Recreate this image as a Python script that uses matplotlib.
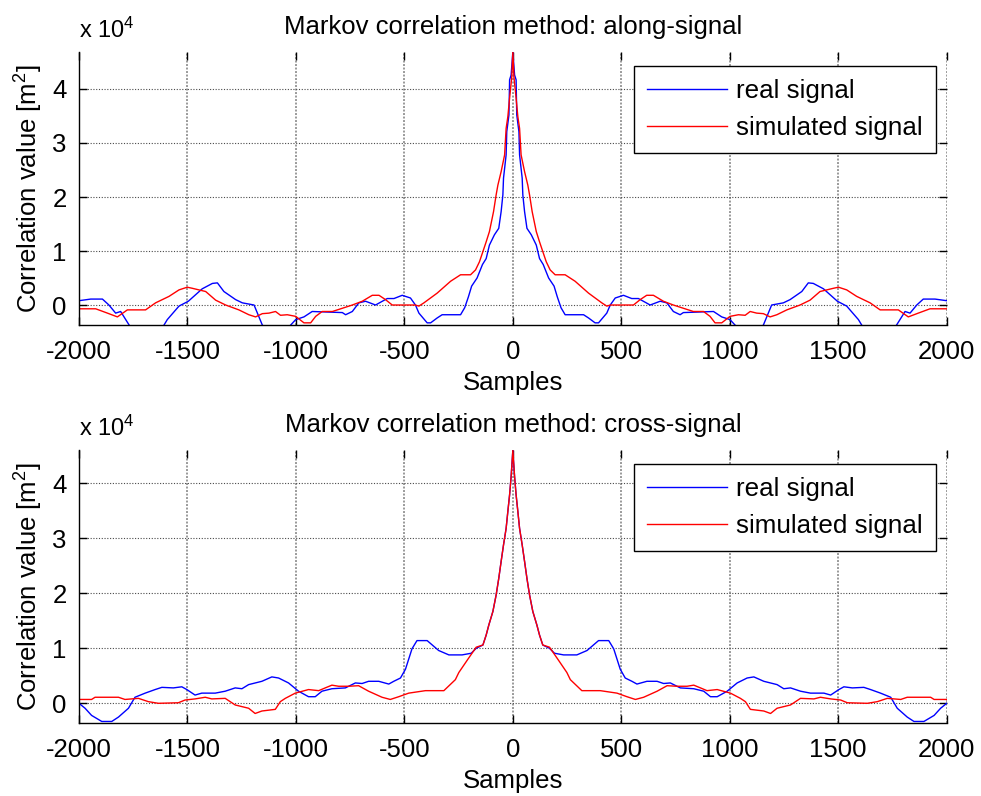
import numpy as np
import matplotlib
matplotlib.use("Agg")
import matplotlib.pyplot as plt

plt.rcParams['font.family'] = ['Liberation Sans', 'DejaVu Sans']
plt.rcParams['mathtext.fontset'] = 'custom'
plt.rcParams['mathtext.rm'] = 'Liberation Sans'
plt.rcParams['mathtext.it'] = 'Liberation Sans:italic'
plt.rcParams['axes.unicode_minus'] = False

SCALE = 1e4

# ---------------- data (lag >= 0 half; correlations are symmetric) ----------------
# values in units of 1e4 m^2
along_real_lag = [0, 8, 15, 18, 28, 31, 43, 46, 54, 65, 85, 108, 123, 140, 165, 190, 205, 222,
                  241, 326, 349, 379, 395, 433, 449, 472, 510, 548, 579, 633, 679, 710, 740, 771,
                  786, 925, 963, 1001, 1024, 1090, 1155, 1193, 1247, 1278, 1332, 1362, 1385, 1432,
                  1496, 1539, 1593, 1608, 1690, 1769, 1808, 1831, 1862, 1892, 1946, 2000]
along_real_val = [4.69, 4.26, 4.17, 3.52, 3.21, 2.78, 2.35, 2.04, 1.73, 1.42, 1.30, 1.11, 0.86, 0.75,
                  0.50, 0.35, 0.15, -0.05, -0.18, -0.18, -0.24, -0.33, -0.33, -0.15, 0.0, 0.13, 0.18,
                  0.12, 0.12, 0.0, 0.07, 0.04, -0.12, -0.18, -0.14, -0.12, -0.22, -0.27, -0.37, -0.62,
                  -0.37, 0.0, 0.04, 0.10, 0.25, 0.41, 0.40, 0.30, 0.07, -0.02, -0.27, -0.37, -0.80,
                  -0.37, -0.12, -0.15, 0.0, 0.11, 0.11, 0.08]

along_sim_lag = [0, 5, 15, 23, 31, 38, 54, 69, 77, 89, 108, 123, 138, 154, 172, 195, 241, 287, 349,
                 410, 433, 450, 556, 587, 617, 648, 694, 740, 786, 832, 879, 909, 932, 963, 1001,
                 1040, 1071, 1094, 1124, 1155, 1186, 1217, 1263, 1324, 1370, 1416, 1478, 1501, 1539,
                 1585, 1647, 1693, 1777, 1823, 1869, 1923, 2000]
along_sim_val = [4.69, 4.22, 3.83, 3.49, 3.27, 2.78, 2.47, 2.22, 2.04, 1.73, 1.36, 1.17, 0.99, 0.80,
                 0.65, 0.56, 0.56, 0.44, 0.22, 0.04, -0.02, 0.0, 0.0, 0.10, 0.18, 0.18, 0.07, 0.0,
                 -0.06, -0.12, -0.12, -0.21, -0.33, -0.33, -0.21, -0.18, -0.19, -0.12, -0.15, -0.16,
                 -0.22, -0.18, -0.09, 0.0, 0.09, 0.25, 0.31, 0.33, 0.28, 0.16, 0.04, -0.09, -0.09,
                 -0.22, -0.15, -0.07, -0.07]

cross_real_lag = [0, 8, 15, 23, 31, 43, 54, 65, 77, 92, 111, 123, 138, 169, 192, 234, 295, 342, 395,
                  442, 465, 495, 518, 549, 572, 618, 665, 695, 726, 772, 834, 880, 911, 942, 988,
                  1034, 1080, 1111, 1157, 1218, 1249, 1280, 1326, 1372, 1434, 1465, 1503, 1526,
                  1565, 1618, 1649, 1695, 1742, 1772, 1818, 1849, 1895, 1942, 1972, 2000]
cross_real_val = [4.6, 4.12, 3.79, 3.49, 3.18, 2.88, 2.58, 2.27, 1.97, 1.67, 1.42, 1.24, 1.06, 1.0,
                  0.91, 0.88, 0.88, 0.96, 1.14, 1.14, 0.99, 0.62, 0.46, 0.40, 0.35, 0.40, 0.40,
                  0.36, 0.37, 0.28, 0.265, 0.22, 0.12, 0.12, 0.22, 0.37, 0.46, 0.48, 0.40, 0.34,
                  0.265, 0.28, 0.22, 0.185, 0.185, 0.15, 0.25, 0.30, 0.28, 0.29, 0.25, 0.185, 0.11,
                  -0.09, -0.25, -0.33, -0.33, -0.22, -0.09, 0.0]

cross_sim_lag = [0, 8, 15, 23, 31, 43, 54, 65, 77, 92, 111, 123, 138, 169, 190, 211, 249, 265, 318,
                 403, 480, 526, 565, 603, 665, 711, 757, 803, 834, 865, 895, 942, 1003, 1049, 1072,
                 1095, 1157, 1188, 1218, 1280, 1326, 1388, 1418, 1465, 1511, 1542, 1634, 1680,
                 1726, 1788, 1818, 1926, 1942, 2000]
cross_sim_val = [4.6, 4.12, 3.79, 3.49, 3.18, 2.88, 2.58, 2.27, 1.97, 1.67, 1.42, 1.24, 1.06, 1.02,
                 0.90, 0.78, 0.56, 0.43, 0.23, 0.23, 0.185, 0.12, 0.07, 0.11, 0.22, 0.32, 0.31,
                 0.31, 0.33, 0.28, 0.23, 0.25, 0.185, 0.09, 0.03, -0.11, -0.14, -0.185, -0.09,
                 -0.03, 0.09, 0.08, 0.11, 0.08, 0.06, 0.01, 0.0, 0.03, 0.09, 0.07, 0.11, 0.11,
                 0.07, 0.07]

titles = ["Markov correlation method: along-signal", "Markov correlation method: cross-signal"]
legend_labels = ["real signal", "simulated signal"]
xticks = [-2000, -1500, -1000, -500, 0, 500, 1000, 1500, 2000]
yticks = [0, 1, 2, 3, 4]
ylims = [(-0.37, 4.685), (-0.358, 4.605)]


def mirror(lag, val):
    lag = np.asarray(lag, float)
    val = np.asarray(val, float)
    return (np.concatenate([-lag[:0:-1], lag]),
            np.concatenate([val[:0:-1], val]) * SCALE)


panels = [
    (mirror(along_real_lag, along_real_val), mirror(along_sim_lag, along_sim_val)),
    (mirror(cross_real_lag, cross_real_val), mirror(cross_sim_lag, cross_sim_val)),
]

fig = plt.figure(figsize=(9.81, 7.96), dpi=100)
W, H = 981, 796
ax_left = 79 / W
ax_width = 867.7 / W
ax_height = 273 / H
bottoms = [1 - 325 / H, 1 - 723 / H]

for i, ((real, sim), title, ylim, bot) in enumerate(zip(panels, titles, ylims, bottoms)):
    ax = fig.add_axes([ax_left, bot, ax_width, ax_height])
    ax.plot(real[0], real[1], color='#0000ff', lw=1.0, label=legend_labels[0])
    ax.plot(sim[0], sim[1], color='#ff0000', lw=1.0, label=legend_labels[1])
    ax.set_xlim(-2000, 2000)
    ax.set_ylim(ylim[0] * SCALE, ylim[1] * SCALE)
    ax.set_xticks(xticks)
    ax.set_xticklabels([str(t) for t in xticks])
    ax.set_yticks([t * SCALE for t in yticks])
    ax.set_yticklabels([str(t) for t in yticks])
    ax.tick_params(direction='in', length=6, width=1.0, top=True, right=True,
                   labelsize=18.5, pad=9, colors='black')
    ax.tick_params(axis='x', pad=11)
    ax.xaxis.grid(True, color='#9a9a9a', lw=1.4, ls=(0, (1, 0.8)))
    ax.yaxis.grid(True, color='#4a4a4a', lw=0.8, ls=(0, (1, 1.5)))
    ax.set_axisbelow(True)
    ax.spines['top'].set_visible(False)
    ax.spines['right'].set_visible(False)
    ax.spines['left'].set_linewidth(1.0)
    ax.spines['bottom'].set_linewidth(1.0)
    ax.set_title(title, fontsize=18.5, pad=13)
    ax.set_xlabel('Samples', fontsize=18.5, labelpad=5)
    ax.set_ylabel('Correlation value [m$\\mathregular{^2}$]', fontsize=18.5, labelpad=5)
    ax.annotate('x 10$\\mathregular{^4}$', xy=(0, 1), xycoords='axes fraction',
                xytext=(0, 10), textcoords='offset points', fontsize=17,
                ha='left', va='baseline')
    leg = ax.legend(loc='upper right', bbox_to_anchor=(0.9877, 0.95), borderaxespad=0,
                    fontsize=18.7, frameon=True, fancybox=False, framealpha=1,
                    edgecolor='black', handlelength=3.1, handletextpad=0.35,
                    labelspacing=0.5, borderpad=0.5)
    leg.get_frame().set_linewidth(1.0)

fig.savefig('out.png', dpi=100)
